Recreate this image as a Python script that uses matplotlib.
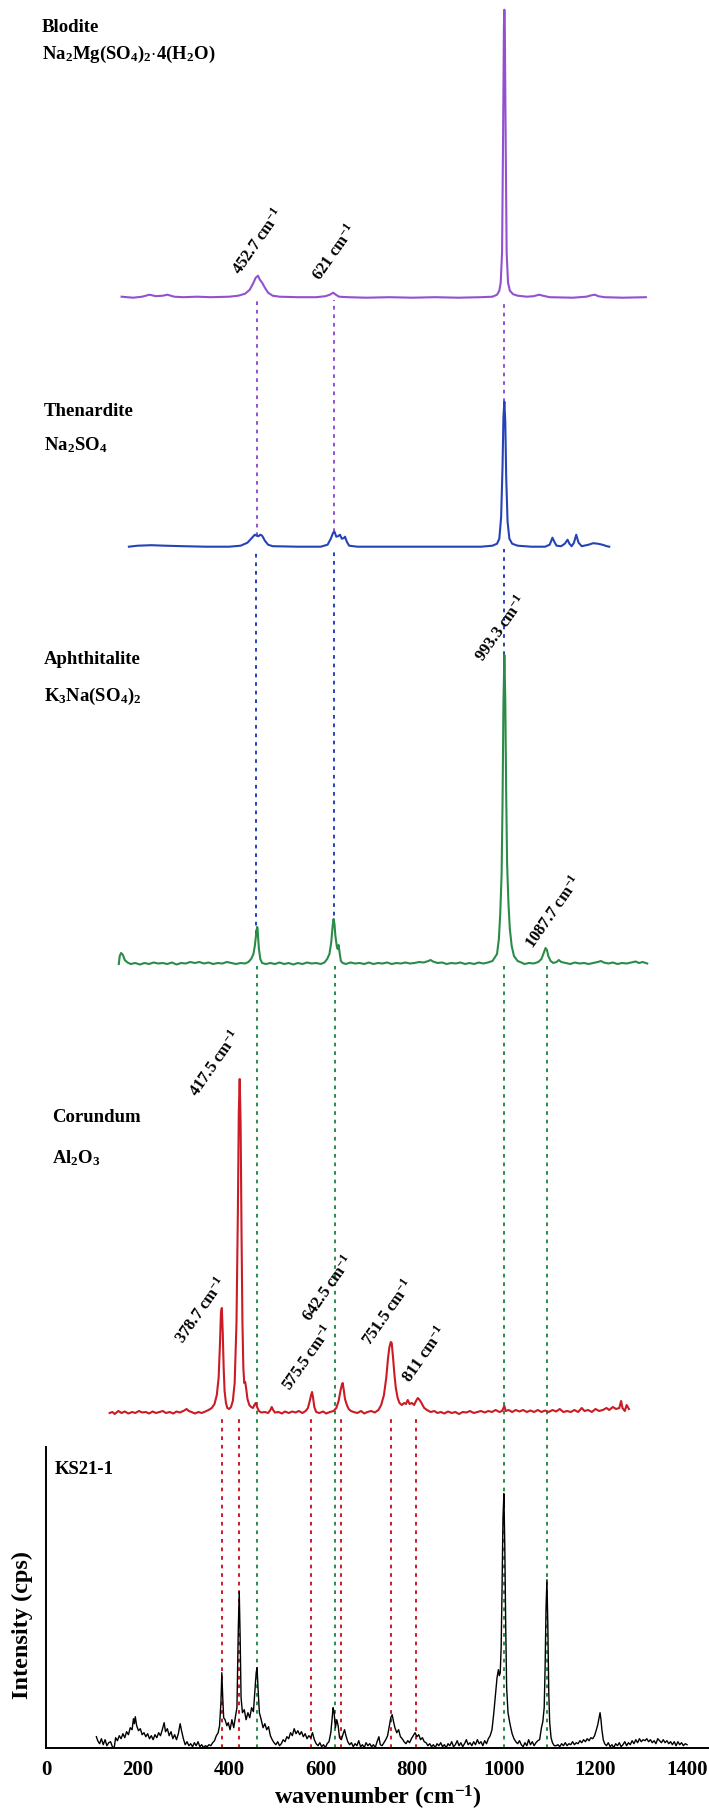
import numpy as np
import matplotlib
matplotlib.use('Agg')
from matplotlib import pyplot as plt

plt.rcParams['font.family'] = ['Liberation Serif', 'DejaVu Serif']
plt.rcParams['font.weight'] = 'bold'
plt.rcParams['axes.labelweight'] = 'bold'
plt.rcParams['mathtext.fontset'] = 'custom'
plt.rcParams['mathtext.rm'] = 'Liberation Serif:bold'
plt.rcParams['mathtext.default'] = 'rm'

# ---- spectra (wavenumber, intensity above own baseline) ----
blodite_x = [165, 190, 210, 226, 240, 255, 265, 280, 300, 330, 360, 400, 420, 435, 445, 452, 458, 463,
             467, 472, 478, 485, 495, 510, 550, 590, 610, 620, 627, 633, 640, 660, 700, 750, 800, 850,
             900, 950, 975, 985, 990, 993, 996, 998, 1000, 1001, 1002, 1004, 1006, 1009, 1013, 1020,
             1030, 1050, 1065, 1077, 1085, 1100, 1150, 1180, 1192, 1199, 1206, 1220, 1260, 1310]
blodite_y = [1, 0, 1, 3, 1.5, 2, 3, 1, 0.5, 1, 0.5, 1, 2, 4, 8, 14, 20, 22,
             18, 15, 10, 5, 2, 1, 0.5, 0.5, 1.5, 3, 5, 3, 1, 0.5, 0, 0.5, 0, 0.5,
             0, 0.5, 1, 3, 7, 15, 45, 150, 270, 288, 270, 150, 45, 15, 7, 3.5,
             2, 1, 1.5, 3, 2, 0.5, 0, 1, 2.5, 3, 1.5, 0.5, 0, 0.5]

thenardite_x = [181, 200, 230, 260, 300, 350, 400, 425, 440, 450, 456, 460, 464, 468, 472, 478, 485, 495,
                550, 600, 615, 622, 627, 630, 634, 638, 642, 646, 650, 653, 657, 662, 680, 750, 850, 950,
                975, 985, 990, 994, 997, 999, 1001, 1003, 1005, 1008, 1012, 1018, 1030, 1060, 1090, 1100,
                1106, 1110, 1115, 1125, 1133, 1139, 1143, 1148, 1153, 1158, 1163, 1170, 1185, 1195, 1205,
                1215, 1225, 1230]
thenardite_y = [0, 1, 1.5, 1, 0.5, 0, 0, 1, 4, 9, 12, 11, 10.5, 12, 11, 6, 2, 0.5,
                0, 0, 2, 8, 14, 15, 10, 10.5, 12, 8, 8.5, 10, 5, 1, 0, 0, 0, 0,
                1, 3, 8, 30, 80, 130, 145, 125, 70, 25, 8, 3, 1, 0, 0, 2,
                9, 5, 1, 0.5, 3, 7, 3, 0.5, 4, 12, 4, 0.5, 2, 3.5, 3,
                2, 0.5, 0]

aphthitalite_x = [159, 161, 164, 168, 172, 178, 185, 195, 205, 215, 225, 235, 245, 255, 265, 275, 285, 295,
                  305, 315, 325, 335, 345, 355, 365, 375, 385, 395, 405, 415, 425, 435, 442, 448, 453, 456,
                  459, 461, 462, 463, 465, 468, 472, 480, 490, 500, 510, 520, 530, 540, 550, 560, 570, 580,
                  590, 600, 608, 614, 619, 623, 626, 628, 630, 632, 635, 637, 639, 641, 644, 648, 655, 665,
                  675, 685, 695, 705, 715, 725, 735, 745, 755, 765, 775, 785, 795, 805, 815, 825, 835, 840,
                  845, 855, 865, 875, 885, 895, 905, 915, 925, 935, 945, 955, 965, 975, 985, 989, 992, 995,
                  997, 999, 1001, 1003, 1005, 1007, 1010, 1013, 1017, 1022, 1030, 1038, 1045, 1055, 1065,
                  1075, 1082, 1087, 1091, 1094, 1097, 1102, 1108, 1115, 1120, 1125, 1135, 1145, 1155, 1165,
                  1175, 1185, 1195, 1205, 1212, 1218, 1228, 1238, 1248, 1258, 1268, 1278, 1288, 1295, 1303,
                  1313]
aphthitalite_y = [0, 8, 11, 9, 4, 1.5, 0, 1, -0.5, 1, 0, 1.5, 0.5, 1, 0, 1.5, -0.5, 1,
                  0.5, 2, 1, 2, 0.5, 1.5, 0, 1, 0.5, 2, 1, 0, 1, 0.5, 2, 5, 10, 18,
                  30, 37, 36, 28, 15, 5, 1, 0, 1, 0, 1.5, 0, 1, -0.5, 1, 0, 1.5, 0.5,
                  1, 0, 1.5, 5, 10, 22, 38, 45, 40, 28, 18, 15, 19, 12, 3, 1, 0, 1.5,
                  0.5, 1, 0, 1.5, 0, 1, 0.5, 1.5, 0, 1, 0.5, 1.5, 0.5, 1, 2, 1.5, 3, 4,
                  2.5, 1, 1.5, 0, 1, 0.5, 1.5, 0, 1, 0, 1.5, 0.5, 1.5, 3, 10, 25, 50, 90,
                  160, 260, 309, 265, 170, 100, 60, 35, 18, 8, 3, 1.5, 0, 1, 0.5,
                  2, 5, 11, 16, 14, 8, 3, 1, 2, 4, 2, 1, 0, 1.5, 0.5,
                  1, 0, 1, 2, 3, 1.5, 0.5, 1.5, 0, 1, 0.5, 1.5, 2.5, 1, 2,
                  0.5]

corundum_x = [139, 145, 150, 158, 165, 172, 180, 188, 195, 203, 210, 218, 225, 233, 240, 248, 255, 262,
              270, 278, 285, 292, 300, 307, 312, 318, 325, 333, 340, 348, 355, 362, 368, 373, 377, 380,
              382, 384, 386, 388, 390, 393, 396, 400, 404, 408, 412, 416, 419, 421, 423, 425, 427, 429,
              431, 433, 435, 437, 440, 444, 448, 452, 455, 458, 461, 465, 470, 478, 485, 490, 493, 496,
              500, 508, 515, 522, 530, 538, 545, 552, 560, 567, 572, 576, 579, 581, 583, 586, 590, 597,
              605, 612, 620, 628, 634, 639, 643, 646, 648, 650, 653, 657, 661, 666, 672, 680, 688, 695,
              702, 710, 718, 726, 732, 738, 743, 747, 750, 753, 755, 758, 761, 764, 768, 772, 777, 782,
              786, 790, 794, 799, 804, 808, 812, 816, 820, 826, 832, 840, 848, 855, 862, 870, 878, 886,
              894, 902, 910, 918, 926, 934, 942, 950, 958, 966, 974, 982, 990, 996, 1001, 1004, 1010,
              1018, 1026, 1034, 1042, 1050, 1058, 1066, 1074, 1082, 1090, 1098, 1106, 1114, 1122, 1130,
              1138, 1146, 1154, 1162, 1170, 1176, 1184, 1192, 1200, 1208, 1216, 1224, 1230, 1238, 1245,
              1252, 1256, 1259, 1264, 1268, 1273]
corundum_y = [0, 1, -1, 2, 0, 1.5, -0.5, 1, 0, 2, 0.5, 1, -0.5, 1.5, 0, 1, 2, 0,
              1, -0.5, 1.5, 0.5, 2, 4, 2, 1, -0.5, 1, 0, 1.5, 3, 5, 9, 18, 35, 70,
              100, 105, 80, 45, 22, 10, 5, 4, 6, 12, 30, 90, 200, 300, 334, 290, 180, 90,
              45, 30, 31, 25, 14, 8, 6, 5, 8, 10, 6, 2, 0.5, 1, 0, 3, 6, 3,
              0.5, 1, -0.5, 1.5, 0, 1.5, 0.5, 2, 0, 2, 5, 12, 18, 21, 16, 6, 1, 0,
              1.5, -0.5, 1, 2, 5, 12, 22, 28, 30, 24, 14, 8, 4, 2, 1, 0, 2, -0.5,
              1, 2, 0.5, 3, 8, 18, 35, 55, 66, 71, 70, 55, 38, 25, 15, 10, 8, 10,
              9, 13, 9, 10, 8, 12, 15, 13, 10, 5, 3, 1, 2, 0, 1, -0.5, 1.5, 0,
              1, -1, 1, 0.5, 2, 0, 1, 2, 0.5, 2, 1, 3, 1, 2, 7, 2, 3,
              1, 3, 1.5, 3, 1, 2.5, 1, 3, 1, 2.5, 1, 3, 1.5, 4, 1,
              2, 1, 3, 1, 5, 2, 3, 1, 4, 2, 3, 5, 3, 6, 4,
              5, 12, 5, 2, 8, 4]

ks21_x = [110, 113, 117, 121, 125, 129, 133, 137, 141, 145, 149, 152, 156, 160, 164, 168, 172, 176, 180,
          184, 188, 191, 193, 195, 198, 202, 206, 210, 214, 218, 222, 226, 230, 234, 238, 242, 246, 250,
          254, 258, 261, 265, 269, 273, 277, 281, 285, 289, 293, 296, 300, 304, 308, 312, 316, 320, 324,
          328, 332, 336, 340, 344, 348, 352, 356, 360, 364, 368, 372, 376, 379, 382, 384, 386, 388, 391,
          395, 398, 402, 406, 410, 414, 417, 420, 422, 424, 426, 429, 433, 437, 441, 445, 449, 453, 456,
          459, 461, 463, 466, 470, 474, 478, 482, 486, 490, 494, 498, 502, 506, 510, 514, 518, 522, 526,
          530, 534, 538, 542, 546, 550, 554, 558, 562, 566, 570, 574, 578, 582, 586, 590, 594, 598, 602,
          606, 610, 614, 618, 622, 625, 627, 629, 632, 635, 638, 641, 645, 649, 652, 655, 659, 663, 667,
          671, 675, 679, 683, 687, 691, 695, 699, 703, 707, 711, 715, 719, 723, 727, 730, 734, 738, 742,
          746, 750, 753, 756, 759, 762, 766, 770, 774, 778, 782, 786, 790, 794, 798, 802, 806, 810, 814,
          818, 822, 826, 830, 834, 838, 842, 846, 850, 854, 858, 862, 866, 870, 874, 878, 882, 886, 890,
          894, 898, 902, 906, 910, 914, 918, 922, 926, 930, 934, 938, 942, 946, 950, 954, 958, 962, 966,
          970, 974, 978, 982, 985, 988, 990, 992, 994, 996, 998, 1000, 1002, 1004, 1006, 1009, 1012,
          1015, 1018, 1022, 1026, 1030, 1034, 1038, 1042, 1046, 1050, 1054, 1058, 1062, 1066, 1070,
          1074, 1078, 1082, 1085, 1088, 1090, 1092, 1094, 1096, 1098, 1100, 1103, 1106, 1110, 1114,
          1118, 1122, 1126, 1130, 1134, 1138, 1142, 1146, 1150, 1154, 1158, 1162, 1166, 1170, 1174,
          1178, 1182, 1186, 1190, 1194, 1198, 1202, 1205, 1208, 1210, 1212, 1214, 1217, 1220, 1224,
          1228, 1232, 1236, 1240, 1244, 1248, 1252, 1256, 1260, 1264, 1268, 1272, 1276, 1280, 1284,
          1288, 1292, 1296, 1300, 1304, 1308, 1312, 1316, 1320, 1324, 1328, 1332, 1336, 1340, 1344,
          1348, 1352, 1356, 1360, 1364, 1368, 1372, 1376, 1380, 1384, 1388, 1392, 1396, 1400]
ks21_y = [11, 7, 4, 9, 3, 8, 2, 5, 6, 1, 0, 10, 7, 12, 9, 14, 10, 16, 13,
          20, 18, 29, 24, 31, 22, 17, 19, 13, 15, 11, 14, 9, 12, 8, 13, 10, 15, 12,
          18, 25, 16, 19, 12, 16, 9, 13, 8, 14, 24, 17, 9, 3, 6, 2, 4, 1, 5,
          2, 6, 1, 3, 0, 2, 1, 3, 2, 5, 7, 12, 15, 22, 45, 75, 50, 30, 28,
          22, 25, 18, 28, 20, 32, 40, 120, 156, 110, 50, 35, 38, 28, 35, 30, 40, 36, 55,
          75, 80, 60, 35, 28, 20, 24, 18, 21, 12, 8, 5, 3, 6, 2, 4, 8, 6, 11,
          9, 15, 12, 19, 14, 17, 13, 16, 11, 14, 9, 12, 10, 15, 8, 4, 2, 5, 1,
          3, 0, 4, 6, 15, 30, 40, 36, 20, 28, 22, 10, 8, 14, 18, 12, 6, 3, 5,
          1, 4, 2, 7, 1, 3, 0, 5, 2, 4, 1, 3, 0, 6, 11, 3, 2, 5, 8,
          12, 22, 30, 33, 26, 20, 15, 18, 11, 9, 6, 4, 7, 5, 9, 12, 15, 11, 13,
          8, 10, 6, 5, 2, 4, 1, 3, 0, 4, 2, 5, 1, 3, 0, 4, 2, 6, 1,
          3, 7, 2, 5, 1, 4, 8, 3, 5, 2, 6, 3, 8, 4, 6, 2, 7, 4, 9,
          12, 18, 35, 55, 70, 78, 72, 75, 100, 160, 230, 254, 200, 120, 60, 35, 27,
          20, 14, 9, 6, 4, 7, 3, 1, 5, 2, 8, 3, 6, 2, 5,
          7, 8, 20, 26, 40, 80, 140, 168, 120, 55, 25, 10, 5, 2, 2,
          3, 1, 4, 2, 5, 2, 4, 3, 6, 3, 5, 4, 7, 5, 8,
          6, 9, 7, 10, 9, 12, 18, 23, 30, 35, 28, 18, 8, 4, 2,
          5, 1, 3, 0, 4, 2, 5, 1, 3, 6, 2, 5, 3, 7, 4,
          8, 5, 9, 6, 8, 7, 9, 6, 8, 5, 7, 4, 9, 7, 5,
          8, 5, 7, 4, 6, 3, 6, 2, 6, 3, 5, 2, 4, 3]

# ---- stacking, labels, guide lines ----
names = ['Blodite', 'Thenardite', 'Aphthitalite', 'Corundum', 'KS21-1']
formulas = [r'Na$_2$Mg(SO$_4$)$_2$$\cdot$4(H$_2$O)', r'Na$_2$SO$_4$', r'K$_3$Na(SO$_4$)$_2$',
            r'Al$_2$O$_3$', None]
colors = ['#9350D0', '#2543B6', '#2A8C48', '#CB1B24', 'black']
offsets = [1450, 1201, 783.7, 334.7, 0]
xs = [blodite_x, thenardite_x, aphthitalite_x, corundum_x, ks21_x]
ys = [blodite_y, thenardite_y, aphthitalite_y, corundum_y, ks21_y]
name_pos = [(-9, 1720), (-4, 1336), (-4, 1088), (13, 630), (20, 278)]
formula_pos = [(-9, 1693), (-4, 1303), (-4, 1051), (13, 590), None]

guide_x = [[461, 629, 1001], [459, 630, 1001], [460, 632, 1001, 1094],
           [384, 422, 578, 644, 754, 807]]

peak_labels = ['452.7', '621', '993.3', '1087.7', '417.5', '378.7', '575.5', '642.5', '751.5', '811']
peak_label_x = [463, 629, 993, 1108, 369, 338, 572, 617, 748, 827]
peak_label_y = [1506, 1495, 1119, 836, 684, 437, 390, 459, 435, 393]

fig = plt.figure(figsize=(7.09, 18.16), dpi=100)
ax = fig.add_axes([46 / 709, 68.3 / 1816, 663 / 709, 1747.7 / 1816])

for i in range(5):
    lw = 1.0 if i == 4 else 1.5
    ax.plot(xs[i], np.array(ys[i]) + offsets[i], color=colors[i], lw=lw, zorder=3)

# dotted guide lines: from one trace down to the next one (or to the axis)
for i, gx in enumerate(guide_x):
    for x in gx:
        top = offsets[i] - 2
        if i < 2:
            bottom = offsets[i + 1] + np.interp(x, xs[i + 1], ys[i + 1])
        else:
            bottom = 0
        ax.plot([x, x], [bottom, top], color=colors[i], lw=1.4,
                dashes=(1.9, 2.5), zorder=2)

for i in range(5):
    ax.text(name_pos[i][0], name_pos[i][1], names[i], fontsize=13.5, ha='left', va='center')
    if formulas[i]:
        ax.text(formula_pos[i][0], formula_pos[i][1], formulas[i], fontsize=13.5,
                ha='left', va='center')

for lab, x, y in zip(peak_labels, peak_label_x, peak_label_y):
    ax.text(x, y, lab + r' cm$^{-1}$', fontsize=12, rotation=55, ha='center', va='center')

ax.set_xlim(0, 663 / 0.4579)
ax.set_ylim(0, 1747.7)
ax.set_xticks(range(0, 1401, 200))
ax.set_yticks([])
ax.tick_params(axis='x', length=0, pad=8.5, labelsize=15)
for s in ['top', 'right']:
    ax.spines[s].set_visible(False)
ax.spines['left'].set_bounds(0, 301)
ax.spines['left'].set_linewidth(1.4)
ax.spines['bottom'].set_linewidth(1.4)
ax.set_xlabel(r'wavenumber (cm$^{-1}$)', fontsize=17.5, labelpad=3)
ax.set_ylabel('Intensity (cps)', fontsize=17.5, va='center')
ax.yaxis.set_label_coords(-0.0353, 0.0702)

fig.savefig('out.png', dpi=100)
